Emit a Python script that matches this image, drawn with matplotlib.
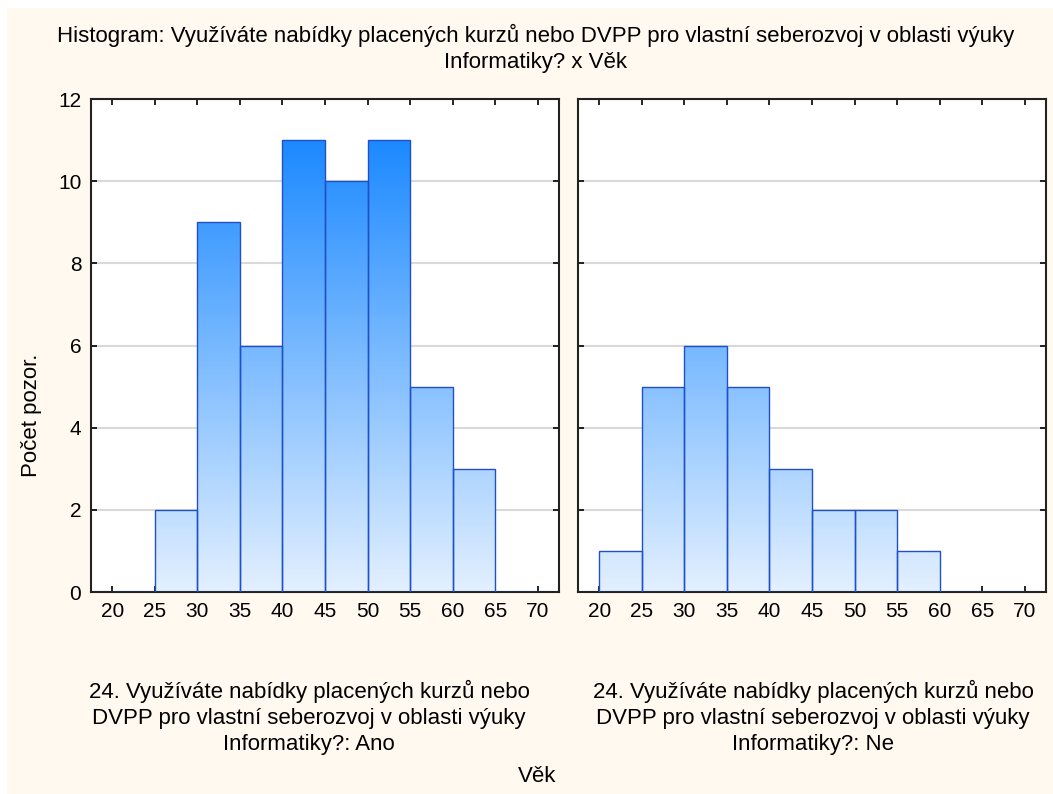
import matplotlib
matplotlib.use("Agg")
import matplotlib.pyplot as plt
import numpy as np
from matplotlib.patches import Rectangle
from matplotlib.colors import LinearSegmentedColormap

plt.rcParams['font.family'] = ['Liberation Sans', 'DejaVu Sans']

bin_edges = [20, 25, 30, 35, 40, 45, 50, 55, 60, 65, 70]
counts_ano = [0, 2, 9, 6, 11, 10, 11, 5, 3, 0]
counts_ne = [1, 5, 6, 5, 3, 2, 2, 1, 0, 0]
xticks = [20, 25, 30, 35, 40, 45, 50, 55, 60, 65, 70]
yticks = [0, 2, 4, 6, 8, 10, 12]

title = "Histogram: Využíváte nabídky placených kurzů nebo DVPP pro vlastní seberozvoj v oblasti výuky\nInformatiky? x Věk"
panel_labels = [
    "24. Využíváte nabídky placených kurzů nebo\nDVPP pro vlastní seberozvoj v oblasti výuky\nInformatiky?: Ano",
    "24. Využíváte nabídky placených kurzů nebo\nDVPP pro vlastní seberozvoj v oblasti výuky\nInformatiky?: Ne",
]
xlabel = "Věk"
ylabel = "Počet pozor."

W, H = 1053, 794
fig = plt.figure(figsize=(W / 100, H / 100), dpi=100)
fig.patch.set_facecolor('#fff9ef')
# white strips at top and left
fig.patches.append(Rectangle((0, 1 - 8 / H), 1, 8 / H, transform=fig.transFigure, facecolor='white', edgecolor='none', zorder=-1))
fig.patches.append(Rectangle((0, 0), 7 / W, 1, transform=fig.transFigure, facecolor='white', edgecolor='none', zorder=-1))

cmap = LinearSegmentedColormap.from_list('g', ['#e3f0ff', '#0a80ff'])
xlim = (17.5, 72.5)
ylim = (0, 12)

def px_axes(x0, x1, ytop, ybot):
    return fig.add_axes([x0 / W, 1 - ybot / H, (x1 - x0) / W, (ybot - ytop) / H])

axes = [px_axes(91, 559, 99, 592), px_axes(578, 1046, 99, 592)]
grad = np.linspace(0, 1, 256).reshape(-1, 1)

for i, (ax, counts) in enumerate(zip(axes, [counts_ano, counts_ne])):
    ax.set_facecolor('white')
    lefts = bin_edges[:-1]
    widths = np.diff(bin_edges)
    bars = ax.bar(lefts, counts, width=widths, align='edge', facecolor='none',
                  edgecolor='#1f50c8', linewidth=1.0, zorder=3)
    for b, c in zip(bars, counts):
        if c <= 0:
            continue
        im = ax.imshow(grad, extent=[xlim[0], xlim[1], 0, 12], origin='lower',
                       cmap=cmap, vmin=0, vmax=1, aspect='auto', zorder=2,
                       interpolation='bilinear')
        im.set_clip_path(b)
    ax.set_xlim(xlim)
    ax.set_ylim(ylim)
    ax.set_xticks(xticks)
    ax.set_yticks(yticks)
    ax.yaxis.grid(True, color='#d9d9d9', linewidth=1.5, zorder=1)
    ax.set_axisbelow(True)
    ax.tick_params(direction='in', length=4, width=1.2, top=True, right=True,
                   labelsize=15, colors='black', pad=7)
    if i == 1:
        ax.tick_params(labelleft=False)
    for s in ax.spines.values():
        s.set_linewidth(1.5)
        s.set_color('#222222')

fig.text(536 / W, 1 - 48.5 / H, title, ha='center', va='center', fontsize=16, linespacing=1.33)
fig.text(309 / W, 1 - 717.5 / H, panel_labels[0], ha='center', va='center', fontsize=16, linespacing=1.33)
fig.text(813 / W, 1 - 717.5 / H, panel_labels[1], ha='center', va='center', fontsize=16, linespacing=1.33)
fig.text(537 / W, 1 - 777 / H, xlabel, ha='center', va='center', fontsize=16)
fig.text(31 / W, 1 - 415 / H, ylabel, ha='center', va='center', fontsize=16, rotation=90)

fig.savefig('out.png', dpi=100, facecolor=fig.get_facecolor())
